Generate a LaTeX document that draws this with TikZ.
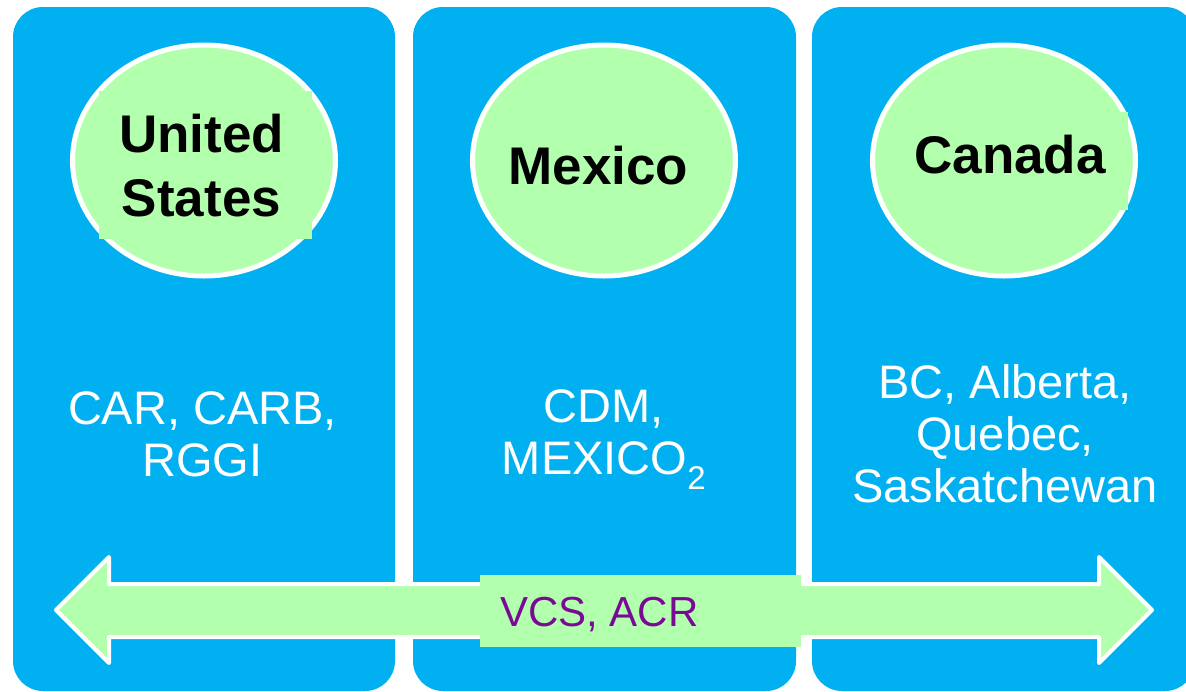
\documentclass[tikz,border=0pt]{standalone}
\usepackage{fontspec}
\setmainfont{Liberation Sans}
\usetikzlibrary{shapes.geometric}
\definecolor{panelblue}{HTML}{00B0F0}
\definecolor{lightgreen}{HTML}{B2FFAE}
\definecolor{darkpurple}{HTML}{7A0996}
\begin{document}
\begin{tikzpicture}[x=1pt, y=-1pt]
    \tikzstyle{panel}=[fill=panelblue, rounded corners=30pt]
    \tikzstyle{bubble}=[ellipse, fill=lightgreen, draw=white, line width=5pt, minimum width=263pt, minimum height=231pt, inner sep=0pt]
    \tikzstyle{country}=[font=\fontsize{53}{64}\selectfont\bfseries, align=center, inner sep=0pt]
    \tikzstyle{scheme}=[text=white, font=\fontsize{47}{52}\selectfont, align=center, inner sep=0pt]
    \clip (0,0) rectangle (1186,691);
    \fill[white] (0,0) rectangle (1186,691);
    % the three panels
    \fill[panel] (13,7) rectangle (395,691);
    \fill[panel] (413,7) rectangle (796,691);
    \fill[panel] (812,7) rectangle (1195,691);
    \node (us) [bubble] at (204,160.5) {};
    \node (mx) [bubble] at (604,160.5) {};
    \node (ca) [bubble] at (1004,160.5) {};
    % text frames showing past the bubbles
    \fill[lightgreen] (99,91) rectangle (312,239);
    \fill[lightgreen] (890,112) rectangle (1128,210);
    \node (usname) [country] at (201.5,165.5) {United\\States};
    \node (mxname) [country] at (598.5,166) {Mexico};
    \node (caname) [country] at (1010,154.5) {Canada};
    \node (usschemes) [scheme] at (202.5,434.5) {CAR, CARB,\\RGGI};
    \node (mxschemes) [scheme] at (604,439.5) {CDM,\\MEXICO\textsubscript{2}};
    \node (caschemes) [scheme] at (1005,433.5) {BC, Alberta,\\Quebec,\\Saskatchewan};
    % shared arrow
    \draw[fill=lightgreen, draw=white, line width=4pt, line join=round]
        (56,610) -- (109,557) -- (109,584) -- (1099,584) -- (1099,557) -- (1152,610)
        -- (1099,663) -- (1099,637) -- (109,637) -- (109,663) -- cycle;
    \node (shared) [fill=lightgreen, minimum width=321pt, minimum height=72pt, anchor=north west, inner sep=0pt] at (480,575) {};
    \node (sharedname) [text=darkpurple, font=\fontsize{42}{48}\selectfont, anchor=base west, inner sep=0pt] at (500,626) {VCS, ACR};
\end{tikzpicture}
\end{document}
